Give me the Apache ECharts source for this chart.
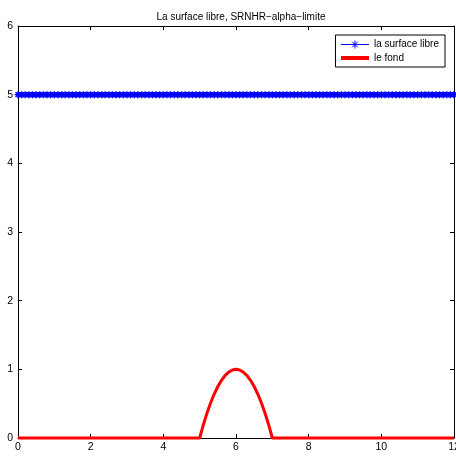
<!DOCTYPE html>
<html><head><meta charset="utf-8">
<script src="https://cdn.jsdelivr.net/npm/echarts@6/dist/echarts.min.js"></script>
<style>html,body{margin:0;padding:0;background:#fff}#c{width:456px;height:458px}</style>
</head><body><div id="c"></div>
<script>
const titleText = 'La surface libre, SRNHR\u2212alpha\u2212limite';
const seriesNames = ['la surface libre', 'le fond'];
const xTicks = [0, 2, 4, 6, 8, 10, 12];
const yTicks = [0, 1, 2, 3, 4, 5, 6];
const surfaceX = [0,0.1,0.2,0.3,0.4,0.5,0.6,0.7,0.8,0.9,1,1.1,1.2,1.3,1.4,1.5,1.6,1.7,1.8,1.9,2,2.1,2.2,2.3,2.4,2.5,2.6,2.7,2.8,2.9,3,3.1,3.2,3.3,3.4,3.5,3.6,3.7,3.8,3.9,4,4.1,4.2,4.3,4.4,4.5,4.6,4.7,4.8,4.9,5,5.1,5.2,5.3,5.4,5.5,5.6,5.7,5.8,5.9,6,6.1,6.2,6.3,6.4,6.5,6.6,6.7,6.8,6.9,7,7.1,7.2,7.3,7.4,7.5,7.6,7.7,7.8,7.9,8,8.1,8.2,8.3,8.4,8.5,8.6,8.7,8.8,8.9,9,9.1,9.2,9.3,9.4,9.5,9.6,9.7,9.8,9.9,10,10.1,10.2,10.3,10.4,10.5,10.6,10.7,10.8,10.9,11,11.1,11.2,11.3,11.4,11.5,11.6,11.7,11.8,11.9,12];
const surfaceY = [5,5,5,5,5,5,5,5,5,5,5,5,5,5,5,5,5,5,5,5,5,5,5,5,5,5,5,5,5,5,5,5,5,5,5,5,5,5,5,5,5,5,5,5,5,5,5,5,5,5,5,5,5,5,5,5,5,5,5,5,5,5,5,5,5,5,5,5,5,5,5,5,5,5,5,5,5,5,5,5,5,5,5,5,5,5,5,5,5,5,5,5,5,5,5,5,5,5,5,5,5,5,5,5,5,5,5,5,5,5,5,5,5,5,5,5,5,5,5,5,5];
const fondX = [0,5,5.1,5.2,5.3,5.4,5.5,5.6,5.7,5.8,5.9,6,6.1,6.2,6.3,6.4,6.5,6.6,6.7,6.8,6.9,7,12];
const fondY = [0,0,0.19,0.36,0.51,0.64,0.75,0.84,0.91,0.96,0.99,1,0.99,0.96,0.91,0.84,0.75,0.64,0.51,0.36,0.19,0,0];

const pair = (xs, ys) => xs.map((x, i) => [x, ys[i]]);
const star = 'path://M5,0L5,10M0,5L10,5M1.5,1.5L8.5,8.5M8.5,1.5L1.5,8.5';
const starLegend = 'path://M0,0L0,0M0,5L28,5M14,1L14,9M10,5L18,5M11.2,2.2L16.8,7.8M16.8,2.2L11.2,7.8M28,10L28,10';
const redLegend = 'path://M0,0L0,0M0,3L28,3L28,7L0,7ZM28,10L28,10';
const FONT = 'Liberation Sans';
const axBase = {
  type: 'value', axisLine: {show: true, onZero: false, lineStyle: {color: '#000', width: 1}},
  axisTick: {show: true, inside: true, length: 4, lineStyle: {color: '#000'}},
  splitLine: {show: false}
};
const chart = echarts.init(document.getElementById('c'), null, {renderer: 'canvas'});
chart.setOption({
  animation: false,
  backgroundColor: '#fff',
  title: {text: titleText, left: 236, top: 7, textAlign: 'center',
    textStyle: {fontFamily: FONT, fontSize: 10, fontWeight: 'normal', color: '#000'}},
  grid: {left: 18, right: 2, top: 26, bottom: 20, containLabel: false, outerBoundsMode: 'none'},
  legend: {
    orient: 'vertical', right: 11, top: 35, padding: [4, 6, 4, 5], itemGap: 3,
    borderColor: '#000', borderWidth: 1, backgroundColor: '#fff', borderRadius: 0,
    itemWidth: 28, itemHeight: 10,
    textStyle: {fontFamily: FONT, fontSize: 10, color: '#000'},
    data: [
      {name: seriesNames[0], icon: starLegend, itemStyle: {color: '#0000ff', borderColor: '#0000ff', borderWidth: 1}},
      {name: seriesNames[1], icon: redLegend, itemStyle: {color: '#ff0000', borderWidth: 0}}
    ]
  },
  xAxis: [
    Object.assign({}, axBase, {min: 0, max: 12, interval: 2, position: 'bottom',
      axisLabel: {color: '#000', fontFamily: FONT, fontSize: 10.5, margin: 4,
        formatter: v => xTicks.includes(v) ? String(v) : ''}}),
    Object.assign({}, axBase, {min: 0, max: 12, interval: 2, position: 'top', axisLabel: {show: false}})
  ],
  yAxis: [
    Object.assign({}, axBase, {min: 0, max: 6, interval: 1, position: 'left',
      axisLabel: {color: '#000', fontFamily: FONT, fontSize: 10.5, margin: 5,
        formatter: v => yTicks.includes(v) ? String(v) : ''}}),
    Object.assign({}, axBase, {min: 0, max: 6, interval: 1, position: 'right', axisLabel: {show: false}})
  ],
  series: [
    {name: seriesNames[0], type: 'line', data: pair(surfaceX, surfaceY), xAxisIndex: 0, yAxisIndex: 0,
      symbol: star, symbolSize: 7, showSymbol: true, showAllSymbol: true,
      lineStyle: {color: '#0000ff', width: 5},
      itemStyle: {color: '#0000ff', borderColor: '#0000ff', borderWidth: 1.4}, clip: false, z: 3},
    {name: seriesNames[1], type: 'line', data: pair(fondX, fondY), xAxisIndex: 0, yAxisIndex: 0,
      symbol: 'none', lineStyle: {color: '#ff0000', width: 3}, itemStyle: {color: '#ff0000'}, clip: false, z: 4}
  ]
});
</script></body></html>
